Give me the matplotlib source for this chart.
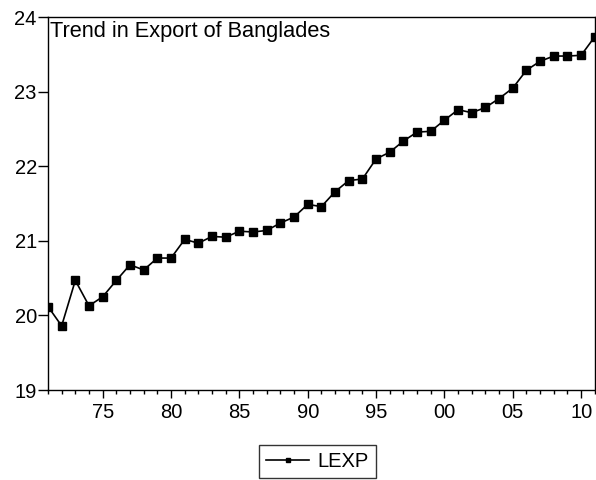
import numpy as np
import matplotlib
matplotlib.use("Agg")
from matplotlib import pyplot as plt
from matplotlib.ticker import MultipleLocator, FuncFormatter

years = np.arange(1971, 2012)
lexp = [20.12, 19.86, 20.47, 20.13, 20.25, 20.47, 20.68, 20.61, 20.77, 20.77,
        21.02, 20.97, 21.06, 21.05, 21.13, 21.12, 21.14, 21.24, 21.32, 21.49,
        21.46, 21.66, 21.81, 21.83, 22.10, 22.19, 22.34, 22.46, 22.47, 22.62,
        22.76, 22.72, 22.79, 22.91, 23.05, 23.29, 23.41, 23.48, 23.48, 23.49,
        23.74]

plt.rcParams['font.family'] = ['Liberation Sans', 'DejaVu Sans']

fig = plt.figure(figsize=(5.96, 4.80), dpi=100)
ax = fig.add_axes([0.0805, 0.1875, 0.9175, 0.7765])

ax.plot(years, lexp, color='black', lw=1.2, marker='s', ms=5.5, label='LEXP')

ax.set_xlim(1971, 2011)
ax.set_ylim(19, 24)
ax.yaxis.set_major_locator(MultipleLocator(1))
ax.xaxis.set_major_locator(MultipleLocator(5))
ax.xaxis.set_minor_locator(MultipleLocator(1))
ax.xaxis.set_major_formatter(FuncFormatter(lambda v, p: "%02d" % (int(v) % 100)))

ax.tick_params(axis='y', direction='out', length=7, width=1, labelsize=14.5, pad=1)
ax.tick_params(axis='x', which='major', direction='out', length=6, width=1, labelsize=14.5, pad=3.5)
ax.tick_params(axis='x', which='minor', direction='out', length=3, width=1)
for s in ax.spines.values():
    s.set_linewidth(1)

ax.text(0.003, 0.99, "Trend in Export of Banglades", transform=ax.transAxes,
        ha='left', va='top', fontsize=15.7)

leg = fig.legend(loc='lower center', bbox_to_anchor=(0.533, 0.004), fontsize=14.5,
                 frameon=True, fancybox=False, edgecolor='black', handlelength=2.1,
                 handletextpad=0.45, borderpad=0.35, borderaxespad=0, markerscale=0.6)
leg.get_frame().set_linewidth(1)

fig.savefig("out.png", dpi=100)
